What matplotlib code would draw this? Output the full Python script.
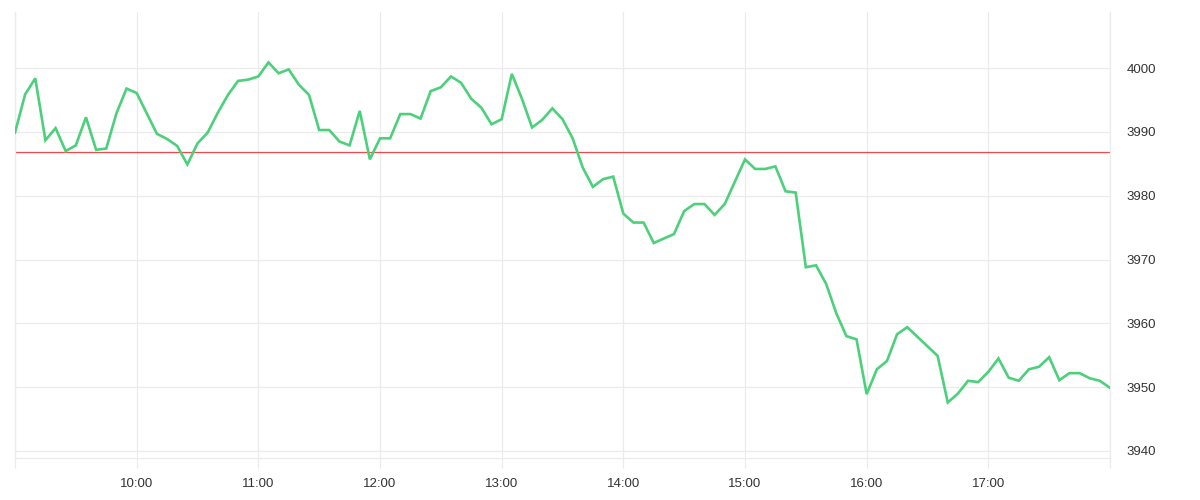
import matplotlib
matplotlib.use("Agg")
import matplotlib.pyplot as plt
import numpy as np

# 5-minute samples from 09:00 to 18:00
start_hour = 9.0
step_minutes = 5
values = [
    3989.9, 3995.9, 3998.4, 3988.7, 3990.6, 3987.0, 3987.9, 3992.3, 3987.2, 3987.4,
    3992.9, 3996.8, 3996.1, 3992.9, 3989.7, 3988.9, 3987.8, 3984.9, 3988.2, 3989.9,
    3993.0, 3995.8, 3998.0, 3998.2, 3998.7, 4000.9, 3999.2, 3999.8, 3997.4, 3995.8,
    3990.3, 3990.3, 3988.5, 3987.9, 3993.3, 3985.7, 3989.0, 3989.0, 3992.8, 3992.8,
    3992.1, 3996.4, 3997.0, 3998.7, 3997.7, 3995.2, 3993.8, 3991.2, 3992.0, 3999.1,
    3995.2, 3990.7, 3991.9, 3993.7, 3992.0, 3989.0, 3984.4, 3981.4, 3982.6, 3983.0,
    3977.2, 3975.8, 3975.8, 3972.6, 3973.3, 3974.0, 3977.6, 3978.7, 3978.7, 3977.0,
    3978.7, 3982.2, 3985.7, 3984.2, 3984.2, 3984.6, 3980.7, 3980.5, 3968.8, 3969.1,
    3966.2, 3961.6, 3958.0, 3957.5, 3948.9, 3952.8, 3954.1, 3958.3, 3959.4, 3957.9,
    3956.4, 3954.9, 3947.6, 3949.0, 3951.0, 3950.8, 3952.4, 3954.5, 3951.5, 3951.0,
    3952.8, 3953.2, 3954.7, 3951.1, 3952.2, 3952.2, 3951.4, 3951.0, 3949.9,
]
reference_level = 3986.8
hour_ticks = list(range(9, 19))
hour_labels = ["" if h in (9, 18) else f"{h}:00" for h in hour_ticks]
y_ticks = [3940, 3950, 3960, 3970, 3980, 3990, 4000]

x = start_hour + np.arange(len(values)) * step_minutes / 60.0

plt.rcParams["font.family"] = ["Liberation Sans", "DejaVu Sans"]

fig = plt.figure(figsize=(12, 5), dpi=100)
ax = fig.add_axes([15/1200, 1 - 458/500, 1095/1200, 446/500])

grid_c = "#ebebeb"
ax.plot(x, values, color="#4cd07b", lw=1.9, solid_joinstyle="miter", zorder=3)
ax.axhline(reference_level, color="#f2474b", lw=0.9, zorder=2)

ax.set_xlim(9, 18)
ax.set_ylim(3938.9, 4008.8)
ax.set_xticks(hour_ticks)
ax.set_xticklabels(hour_labels)
ax.set_yticks(y_ticks)
ax.yaxis.tick_right()
ax.grid(True, color=grid_c, lw=0.9, zorder=0)

ax.tick_params(axis="x", length=7.5, width=0.9, color=grid_c, pad=7,
               labelsize=9.5, labelcolor="#333333")
ax.tick_params(axis="y", length=0, pad=12, labelsize=9.5, labelcolor="#333333")
for lab in ax.get_yticklabels():
    lab.set_horizontalalignment("left")

ax.spines["top"].set_visible(False)
for s in ["left", "right", "bottom"]:
    ax.spines[s].set_color(grid_c)
    ax.spines[s].set_linewidth(0.9)

fig.savefig("out.png", dpi=100, facecolor="white")
